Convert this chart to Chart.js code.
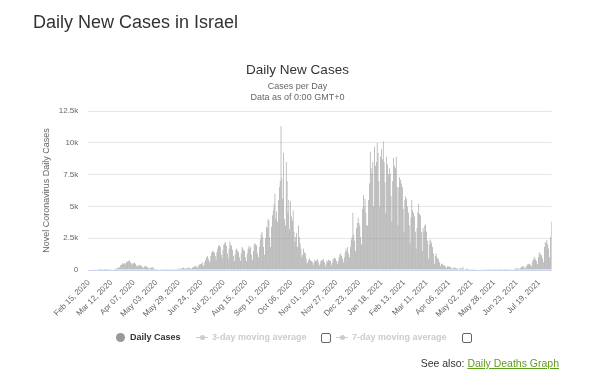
<!DOCTYPE html>
<html>
<head>
<meta charset="utf-8">
<script src="https://cdn.jsdelivr.net/npm/chart.js@4/dist/chart.umd.min.js"></script>
<style>
  body { margin: 0; background: #fff; }
  #wrap { position: relative; width: 595px; height: 387px; font-family: 'Liberation Sans', Arial, sans-serif; }
  #wrap canvas { position: absolute; left: 0; top: 0; }
  .txt { position: absolute; margin: 0; line-height: 1; white-space: nowrap; }
  .legend-item { position: absolute; top: 333px; font-size: 9px; font-weight: bold; line-height: 1; }
  .box { position: absolute; width: 8px; height: 8px; border: 1px solid #666; border-radius: 2px; top: 333px; }
  .sym-line { position: absolute; height: 1.5px; width: 12px; background: #ccc; top: 336.5px; }
  .sym-dot { position: absolute; width: 5px; height: 5px; border-radius: 50%; background: #ccc; top: 335px; }
</style>
</head>
<body>
<div id="wrap">
  <canvas id="chart-cases" width="595" height="387"></canvas>
  <h1 class="txt" style="left:33px;top:12.5px;font-size:18px;font-weight:normal;color:#333;">Daily New Cases in Israel</h1>
  <div class="txt" style="left:0;width:595px;text-align:center;top:62.5px;font-size:13.5px;color:#333;">Daily New Cases</div>
  <div class="txt" style="left:0;width:595px;text-align:center;top:82px;font-size:9px;color:#666;">Cases per Day</div>
  <div class="txt" style="left:0;width:595px;text-align:center;top:92.5px;font-size:9px;color:#666;">Data as of 0:00 GMT+0</div>

  <!-- legend -->
  <div style="position:absolute;left:115.5px;top:332.5px;width:9px;height:9px;border-radius:50%;background:#999;"></div>
  <div class="legend-item" style="left:130px;color:#333;">Daily Cases</div>
  <div class="sym-line" style="left:196px;"></div>
  <div class="sym-dot" style="left:199.5px;"></div>
  <div class="legend-item" style="left:212px;color:#ccc;">3-day moving average</div>
  <div class="box" style="left:321px;"></div>
  <div class="sym-line" style="left:336px;"></div>
  <div class="sym-dot" style="left:339.5px;"></div>
  <div class="legend-item" style="left:352px;color:#ccc;">7-day moving average</div>
  <div class="box" style="left:462px;"></div>

  <div class="txt" style="right:36px;top:358px;font-size:10.5px;color:#333;">See also: <span style="color:#5f9e1d;text-decoration:underline;">Daily Deaths Graph</span></div>
</div>
<script>
  // first day of the series
  const startYear = 2020, startMonth = 1, startDay = 15; // Feb 15, 2020
  const monthNames = ['Jan', 'Feb', 'Mar', 'Apr', 'May', 'Jun', 'Jul', 'Aug', 'Sep', 'Oct', 'Nov', 'Dec'];
  const labelEvery = 26;
  const yTicks = [0, 2500, 5000, 7500, 10000, 12500];
  const yTickLabels = ['0', '2.5k', '5k', '7.5k', '10k', '12.5k'];

  // daily new cases, one row per week (Sat..Fri), Feb 15 - Dec 31, 2020
  const cases2020 = [
    0, 0, 0, 0, 0, 0, 1,
    0, 0, 0, 0, 1, 1, 0,
    3, 2, 2, 0, 2, 5, 6,
    2, 18, 11, 14, 17, 21, 48,
    50, 45, 50, 115, 99, 140, 200,
    240, 180, 400, 420, 530, 500, 540,
    430, 560, 680, 620, 710, 750, 600,
    420, 560, 470, 530, 580, 500, 330,
    260, 400, 330, 380, 400, 300, 250,
    130, 260, 310, 330, 250, 220, 160,
    100, 180, 200, 170, 240, 120, 90,
    60, 60, 70, 40, 40, 30, 20,
    10, 20, 15, 18, 25, 20, 10,
    8, 15, 20, 15, 20, 25, 15,
    10, 15, 20, 40, 90, 80, 110,
    60, 110, 120, 160, 200, 140, 110,
    100, 140, 170, 180, 160, 140, 120,
    90, 200, 250, 280, 300, 330, 200,
    170, 340, 440, 470, 500, 600, 380,
    300, 620, 780, 1000, 1100, 900, 700,
    600, 1100, 1350, 1500, 1450, 1350, 1100,
    800, 1400, 1700, 1900, 1950, 1800, 1200,
    900, 1600, 2000, 2100, 2200, 1900, 1300,
    900, 1700, 2250, 2000, 1900, 1600, 1100,
    700, 1200, 1600, 1700, 1500, 1400, 1000,
    700, 1300, 1800, 1700, 1600, 1500, 1000,
    700, 1300, 1700, 1900, 1700, 1800, 1200,
    800, 1500, 2000, 2100, 2000, 1900, 1300,
    1000, 1800, 2400, 2800, 3000, 2600, 1800,
    1200, 2500, 3400, 3300, 4000, 3900, 2600,
    1800, 3400, 4300, 4700, 5200, 6000, 4000,
    4600, 3800, 5500, 6500, 7000, 11300, 7200,
    5600, 9200, 4000, 3500, 8500, 7000, 4500,
    5500, 3200, 5400, 4200, 3900, 4700, 3000,
    2200, 2600, 2900, 1800, 3500, 2600, 2100,
    1700, 1000, 1200, 1700, 1400, 1300, 900,
    500, 600, 800, 900, 750, 700, 650,
    400, 550, 800, 700, 750, 850, 650,
    350, 450, 700, 750, 800, 850, 600,
    300, 500, 750, 650, 800, 750, 700,
    350, 550, 800, 900, 950, 900, 700,
    500, 700, 1000, 1200, 1300, 1100, 900,
    600, 1000, 1400, 1700, 1500, 1800, 1300,
    1000, 1800, 2400, 2600, 4500, 2800, 2300,
    1500, 3300, 3700, 4100, 3700, 3500, 2600,
    2000, 4800, 5900, 5000, 5600, 4500,
  ];

  // Jan 1 - Aug 2, 2021
  const cases2021 = [
    3500,
    3500, 5500, 6800, 9300, 8000, 7600, 8500,
    5000, 9700, 8200, 8500, 10000, 9200, 7000,
    5000, 8900, 9500, 8700, 10100, 8500, 6900,
    4500, 8900, 8300, 7500, 8000, 7600, 5800,
    3800, 7000, 8800, 8200, 8000, 8900, 6500,
    3500, 6500, 7300, 7100, 6800, 6500, 4800,
    3000, 5500, 5800, 5600, 5000, 4500, 3500,
    2100, 4100, 5500, 4700, 4500, 4200, 3000,
    1700, 3300, 4500, 5200, 4400, 4300, 3000,
    1500, 3300, 3000, 3500, 3600, 3000, 2300,
    900, 2000, 2400, 2300, 2100, 1800, 1300,
    500, 1100, 1300, 1050, 900, 850, 600,
    300, 500, 500, 400, 380, 350, 250,
    150, 300, 300, 250, 280, 220, 150,
    80, 200, 180, 170, 160, 140, 100,
    50, 130, 140, 120, 110, 250, 80,
    40, 80, 90, 100, 70, 60, 40,
    20, 50, 60, 70, 55, 45, 30,
    15, 40, 40, 35, 30, 30, 20,
    10, 25, 30, 25, 20, 20, 15,
    8, 20, 20, 25, 20, 15, 10,
    5, 15, 12, 20, 15, 10, 8,
    4, 10, 12, 15, 10, 8, 6,
    3, 10, 10, 12, 15, 20, 15,
    10, 30, 100, 110, 130, 140, 100,
    80, 150, 200, 250, 300, 280, 200,
    120, 300, 350, 500, 450, 500, 400,
    250, 600, 800, 900, 1050, 800, 700,
    450, 1000, 1400, 1300, 1200, 1150, 900,
    600, 1800, 2200, 2100, 2350, 2000, 1700,
    1000, 2600, 3800,
  ];

  const dailyCases = cases2020.concat(cases2021);

  const labels = dailyCases.map((_, i) => {
    const d = new Date(Date.UTC(startYear, startMonth, startDay + i));
    const dd = String(d.getUTCDate()).padStart(2, '0');
    return `${monthNames[d.getUTCMonth()]} ${dd}, ${d.getUTCFullYear()}`;
  });

  const chartTop = 111, chartBottom = 270, chartLeft = 88.3, chartRight = 551.7;
  const yAxisWidth = 50, xAxisHeight = 60;

  new Chart(document.getElementById('chart-cases'), {
    type: 'bar',
    data: {
      labels,
      datasets: [{
        label: 'Daily Cases',
        data: dailyCases,
        backgroundColor: '#9c9c9c',
        borderWidth: 0,
        barPercentage: 0.72,
        categoryPercentage: 1,
      }],
    },
    options: {
      responsive: false,
      animation: false,
      layout: {
        padding: {
          top: chartTop,
          left: chartLeft - yAxisWidth,
          right: 595 - chartRight,
          bottom: 387 - chartBottom - xAxisHeight,
        },
      },
      plugins: { legend: { display: false }, tooltip: { enabled: false } },
      scales: {
        x: {
          offset: true,
          grid: { display: false },
          border: { color: '#ccd6eb', width: 1 },
          afterBuildTicks: (scale) => {
            scale.ticks = scale.ticks.filter((t) => t.value % labelEvery === 0);
          },
          afterFit: (scale) => { scale.height = xAxisHeight; },
          ticks: {
            autoSkip: false,
            minRotation: 45,
            maxRotation: 45,
            padding: 0,
            color: '#666',
            font: { family: "'Liberation Sans', Arial, sans-serif", size: 8 },
          },
        },
        y: {
          min: 0,
          max: 12500,
          afterBuildTicks: (scale) => { scale.ticks = yTicks.map((v) => ({ value: v })); },
          afterFit: (scale) => { scale.width = yAxisWidth; },
          grid: { color: '#e6e6e6', drawTicks: false },
          border: { display: false },
          ticks: {
            padding: 10,
            color: '#666',
            font: { family: "'Liberation Sans', Arial, sans-serif", size: 8 },
            callback: (v) => yTickLabels[yTicks.indexOf(v)],
          },
          title: {
            display: true,
            text: 'Novel Coronavirus Daily Cases',
            color: '#666',
            padding: { top: 3, bottom: 0 },
            font: { family: "'Liberation Sans', Arial, sans-serif", size: 9 },
          },
        },
      },
    },
  });
</script>
</body>
</html>
